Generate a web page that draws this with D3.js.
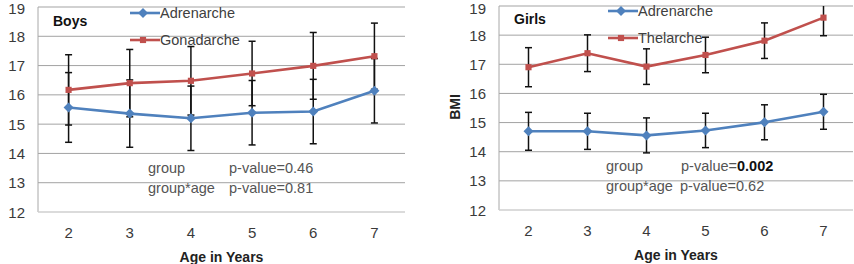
<!DOCTYPE html>
<html>
<head>
<meta charset="utf-8">
<script src="https://cdn.jsdelivr.net/npm/d3@7"></script>
<style>
body { margin: 0; background: #fff; }
text { font-family: "Liberation Sans", Arial, sans-serif; }
</style>
</head>
<body>
<script>
var ages = [2, 3, 4, 5, 6, 7];
var yTicks = [12, 13, 14, 15, 16, 17, 18, 19];

var boysAdren = [15.57, 15.36, 15.2, 15.39, 15.43, 16.14];
var boysAdrenErr = [1.19, 1.15, 1.1, 1.1, 1.1, 1.1];
var boysGonad = [16.17, 16.4, 16.48, 16.73, 16.99, 17.32];
var boysGonadErr = [1.2, 1.15, 1.17, 1.1, 1.14, 1.13];

var girlsAdren = [14.7, 14.7, 14.56, 14.73, 15.01, 15.37];
var girlsAdrenErr = [0.65, 0.62, 0.6, 0.59, 0.6, 0.6];
var girlsThel = [16.9, 17.38, 16.92, 17.32, 17.81, 18.6];
var girlsThelErr = [0.67, 0.63, 0.61, 0.61, 0.61, 0.62];

var Blue = "#4F81BD";
var Red = "#C0504D";

var svg = d3.select("body")
	.append("svg")
	.attr("width", 854)
	.attr("height", 264)

function panel(opts) {
	var x = d3.scaleBand().domain(ages).range([opts.x0, opts.x1]);
	var y = d3.scaleLinear().domain([12, 19]).range([opts.y1, opts.y0]);
	var g = svg.append("g");

	// gridlines
	g.selectAll("grid").data(yTicks.slice(1)).enter()
		.append("line")
		.attr("x1", opts.x0)
		.attr("x2", opts.x1)
		.attr("y1", d => y(d))
		.attr("y2", d => y(d))
		.attr("stroke", "#a3a3a3")
		.attr("stroke-width", 1)

	// axes lines
	g.append("line")
		.attr("x1", opts.x0).attr("x2", opts.x0)
		.attr("y1", y(19)).attr("y2", y(12))
		.attr("stroke", "#a8a8a8")
	g.append("line")
		.attr("x1", opts.x0).attr("x2", opts.x1)
		.attr("y1", y(12)).attr("y2", y(12))
		.attr("stroke", "#cfcfcf")
		.attr("stroke-width", 1.5)

	// tick labels (top one kept inside the window)
	g.selectAll("yl").data(yTicks).enter()
		.append("text")
		.attr("x", opts.x0 - 13)
		.attr("y", d => Math.max(y(d) + 5.5, 14))
		.attr("text-anchor", "end")
		.attr("font-size", 15)
		.attr("fill", "#3a3a3a")
		.text(d => d)
	g.selectAll("xl").data(ages).enter()
		.append("text")
		.attr("x", d => x(d) + x.bandwidth() / 2)
		.attr("y", y(12) + 26)
		.attr("text-anchor", "middle")
		.attr("font-size", 15)
		.attr("fill", "#3a3a3a")
		.text(d => d)

	g.append("text")
		.attr("x", (opts.x0 + opts.x1) / 2)
		.attr("y", y(12) + 50)
		.attr("text-anchor", "middle")
		.attr("font-size", 14)
		.attr("font-weight", "bold")
		.attr("fill", "#222")
		.text("Age in Years")

	g.append("text")
		.attr("x", opts.titleX)
		.attr("y", opts.titleY)
		.attr("font-size", 14)
		.attr("font-weight", "bold")
		.attr("fill", "#111")
		.text(opts.title)

	var clipId = "clip" + opts.title;
	svg.append("clipPath").attr("id", clipId)
		.append("rect")
		.attr("x", opts.x0).attr("y", y(19))
		.attr("width", opts.x1 - opts.x0).attr("height", y(12) - y(19))

	var series = opts.series;
	var cx = (d, i) => x(ages[i]) + x.bandwidth() / 2;

	// error bars
	series.forEach(function(s) {
		var eb = g.append("g").attr("clip-path", "url(#" + clipId + ")");
		s.values.forEach(function(v, i) {
			var xx = cx(v, i);
			var hi = y(v + s.err[i]), lo = y(v - s.err[i]);
			eb.append("line").attr("x1", xx).attr("x2", xx).attr("y1", hi).attr("y2", lo)
				.attr("stroke", "#111").attr("stroke-width", 1.5)
			eb.append("line").attr("x1", xx - 3.5).attr("x2", xx + 3.5).attr("y1", hi).attr("y2", hi)
				.attr("stroke", "#111").attr("stroke-width", 1.5)
			eb.append("line").attr("x1", xx - 3.5).attr("x2", xx + 3.5).attr("y1", lo).attr("y2", lo)
				.attr("stroke", "#111").attr("stroke-width", 1.5)
		});
	});

	// lines and markers
	series.forEach(function(s) {
		var line = d3.line().x(cx).y(d => y(d));
		g.append("path")
			.attr("d", line(s.values))
			.attr("fill", "none")
			.attr("stroke", s.color)
			.attr("stroke-width", 2.6)
		g.selectAll("mk").data(s.values).enter()
			.append("path")
			.attr("d", d3.symbol().type(d3.symbolSquare).size(s.diamond ? 50 : 38)())
			.attr("transform", (d, i) => "translate(" + cx(d, i) + "," + y(d) + ")" + (s.diamond ? " rotate(45)" : ""))
			.attr("fill", s.color)
	});

	// legend
	series.forEach(function(s, k) {
		var ly = opts.legY[k];
		g.append("line")
			.attr("x1", opts.legX).attr("x2", opts.legX + 30)
			.attr("y1", ly).attr("y2", ly)
			.attr("stroke", s.color).attr("stroke-width", 2.6)
		g.append("path")
			.attr("d", d3.symbol().type(d3.symbolSquare).size(s.diamond ? 50 : 38)())
			.attr("transform", "translate(" + (opts.legX + 13) + "," + ly + ")" + (s.diamond ? " rotate(45)" : ""))
			.attr("fill", s.color)
		g.append("text")
			.attr("x", opts.legX + 30)
			.attr("y", ly + 5)
			.attr("font-size", 14.5)
			.attr("fill", "#404040")
			.text(s.name)
	});

	// p-values
	var ann = opts.ann;
	g.append("text").attr("x", ann.x).attr("y", ann.y1).attr("font-size", 14.5).attr("fill", "#555").text("group")
	g.append("text").attr("x", ann.x).attr("y", ann.y2).attr("font-size", 14.5).attr("fill", "#555").text("group*age")
	var p1 = g.append("text").attr("x", ann.px).attr("y", ann.y1).attr("font-size", 14.5).attr("fill", "#555")
	p1.append("tspan").text("p-value=")
	p1.append("tspan").attr("font-weight", ann.bold ? "bold" : "normal").attr("fill", ann.bold ? "#111" : "#555").text(ann.p1)
	g.append("text").attr("x", ann.px2).attr("y", ann.y2).attr("font-size", 14.5).attr("fill", "#555").text("p-value=" + ann.p2)

	return {x: x, y: y};
}

panel({
	x0: 38, x1: 405, y0: 7, y1: 212,
	title: "Boys", titleX: 53, titleY: 26,
	legX: 130, legY: [13, 40],
	series: [
		{name: "Adrenarche", values: boysAdren, err: boysAdrenErr, color: Blue, diamond: true},
		{name: "Gonadarche", values: boysGonad, err: boysGonadErr, color: Red, diamond: false}
	],
	ann: {x: 148, px: 229, px2: 229, y1: 173, y2: 193, p1: "0.46", p2: "0.81", bold: false}
})

panel({
	x0: 499, x1: 853, y0: 6, y1: 210,
	title: "Girls", titleX: 514, titleY: 24,
	legX: 608, legY: [11, 38],
	series: [
		{name: "Adrenarche", values: girlsAdren, err: girlsAdrenErr, color: Blue, diamond: true},
		{name: "Thelarche", values: girlsThel, err: girlsThelErr, color: Red, diamond: false}
	],
	ann: {x: 606, px: 681, px2: 680, y1: 171, y2: 191, p1: "0.002", p2: "0.62", bold: true}
})

svg.append("text")
	.attr("transform", "translate(460,107) rotate(-90)")
	.attr("text-anchor", "middle")
	.attr("font-size", 14)
	.attr("font-weight", "bold")
	.attr("fill", "#222")
	.text("BMI")
</script>
</body>
</html>
